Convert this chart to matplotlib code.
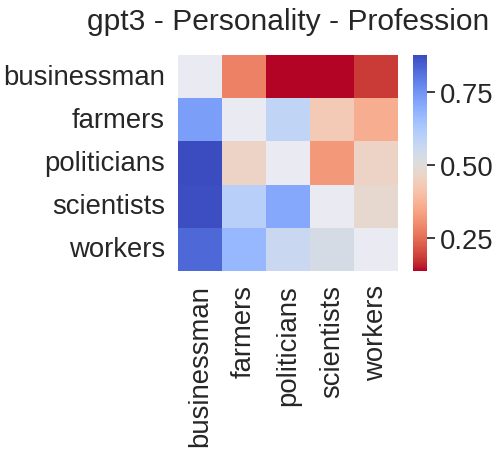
import numpy as np
import matplotlib
matplotlib.use("Agg")
import matplotlib.pyplot as plt
import seaborn as sns

labels = ["businessman", "farmers", "politicians", "scientists", "workers"]
row_businessman = [np.nan, 0.28, 0.135, 0.135, 0.18]
row_farmers = [0.73, np.nan, 0.58, 0.43, 0.36]
row_politicians = [0.879, 0.46, np.nan, 0.32, 0.46]
row_scientists = [0.875, 0.60, 0.71, np.nan, 0.48]
row_workers = [0.83, 0.67, 0.56, 0.53, np.nan]

data = np.array([row_businessman, row_farmers, row_politicians, row_scientists, row_workers])

sns.set_theme(font_scale=1.8)
plt.rcParams['font.family'] = ['Liberation Sans', 'DejaVu Sans']
plt.rcParams['axes.grid'] = False
fig = plt.figure(figsize=(4.96, 4.52), dpi=100)
ax = fig.add_axes([178/496, 1 - 272/452, 220/496, 216/452])
cax = fig.add_axes([413/496, 1 - 272/452, 14/496, 216/452])
sns.heatmap(data, cmap="coolwarm_r", ax=ax, cbar_ax=cax,
            xticklabels=labels, yticklabels=labels)
ax.grid(False)
ax.set_title("gpt3 - Personality - Profession", pad=19)
plt.setp(ax.get_yticklabels(), rotation=0)
plt.setp(ax.get_xticklabels(), rotation=90)
fig.savefig("out.png", dpi=100)
